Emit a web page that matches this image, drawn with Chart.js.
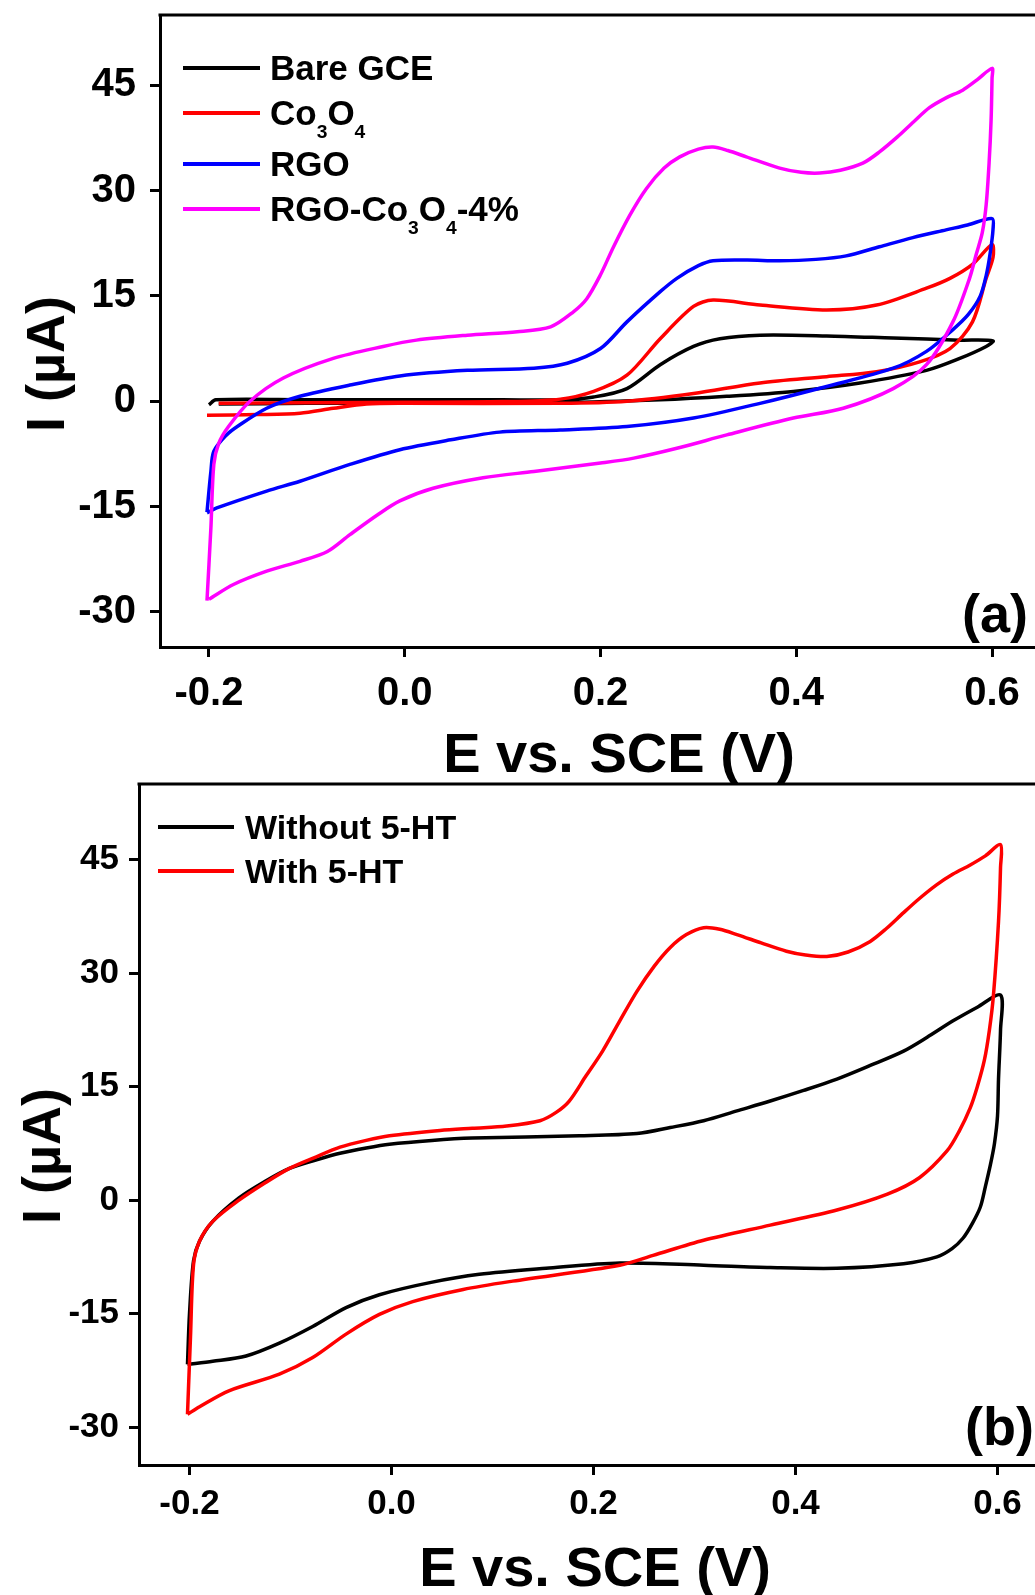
<!DOCTYPE html>
<html>
<head>
<meta charset="utf-8">
<script src="https://cdn.jsdelivr.net/npm/chart.js@4.4.0/dist/chart.umd.min.js"></script>
<style>
html, body { margin: 0; padding: 0; background: #fff; overflow: hidden; }
body { width: 1035px; height: 1595px; position: relative; font-family: "Liberation Sans", Arial, sans-serif; font-weight: bold; color: #000; }
canvas { position: absolute; left: 0; }
.lbl { position: absolute; white-space: nowrap; line-height: 1; }
.c { transform: translate(-50%, -50%); }
.rot { transform: translate(-50%, -50%) rotate(-90deg); }
.sw { position: absolute; height: 4px; }
sub { font-size: 55%; vertical-align: -0.65em; line-height: 0; }
</style>
</head>
<body>
<canvas id="chartA" width="1050" height="730" style="top:0"></canvas>
<canvas id="chartB" width="1055" height="760" style="top:770px"></canvas>

<!-- panel (a) texts -->
<div class="lbl rot" style="left:45px;top:364px;font-size:54px">I (µA)</div>
<div class="lbl c" style="left:619px;top:753px;font-size:56px">E vs. SCE (V)</div>
<div class="lbl" style="left:962px;top:586px;font-size:54px">(a)</div>
<div class="sw" style="left:183px;top:66px;width:77px;background:#000"></div>
<div class="lbl" style="left:270px;top:50px;font-size:35px">Bare GCE</div>
<div class="sw" style="left:183px;top:111px;width:77px;background:#ff0000"></div>
<div class="lbl" style="left:270px;top:95px;font-size:35px">Co<sub>3</sub>O<sub>4</sub></div>
<div class="sw" style="left:183px;top:162px;width:77px;background:#0000ff"></div>
<div class="lbl" style="left:270px;top:146px;font-size:35px">RGO</div>
<div class="sw" style="left:183px;top:207px;width:77px;background:#ff00ff"></div>
<div class="lbl" style="left:270px;top:191px;font-size:35px">RGO-Co<sub>3</sub>O<sub>4</sub>-4%</div>

<!-- panel (b) texts -->
<div class="lbl rot" style="left:41px;top:1156px;font-size:54px">I (µA)</div>
<div class="lbl c" style="left:595px;top:1567px;font-size:56px">E vs. SCE (V)</div>
<div class="lbl" style="left:965px;top:1399px;font-size:54px">(b)</div>
<div class="sw" style="left:158px;top:825px;width:76px;background:#000"></div>
<div class="lbl" style="left:245px;top:810px;font-size:34px">Without 5-HT</div>
<div class="sw" style="left:158px;top:869px;width:76px;background:#ff0000"></div>
<div class="lbl" style="left:245px;top:854px;font-size:34px">With 5-HT</div>

<script>
// Axis ticks
const potentialTicks = [-0.2, 0.0, 0.2, 0.4, 0.6];
const currentTicks = [-30, -15, 0, 15, 30, 45];

// Panel (a) - Bare GCE (forward sweep then reverse)
const bareE = [-0.2, -0.193, -0.1, 0.0, 0.1, 0.159, 0.193, 0.227, 0.261, 0.295, 0.322, 0.363, 0.431, 0.499, 0.567, 0.601,
               0.594, 0.567, 0.533, 0.465, 0.397, 0.329, 0.261, 0.159, 0.0, -0.1, -0.19];
const bareI = [-0.5, 0.2, 0.2, 0.2, 0.2, 0.2, 0.6, 1.8, 5.2, 7.8, 8.9, 9.4, 9.3, 9.0, 8.7, 8.6,
               7.8, 6.1, 4.4, 2.6, 1.4, 0.7, 0.2, -0.2, -0.3, -0.3, -0.4];

// Panel (a) - Co3O4
const co3o4E = [-0.19, -0.1, 0.0, 0.1, 0.159, 0.193, 0.227, 0.261, 0.295, 0.315, 0.363, 0.431, 0.482, 0.533, 0.557, 0.58, 0.6,
                0.601, 0.594, 0.58, 0.557, 0.526, 0.482, 0.431, 0.363, 0.295, 0.227, 0.159, 0.0, -0.039, -0.073, -0.107, -0.15, -0.202];
const co3o4I = [-0.3, -0.2, -0.15, -0.05, 0.3, 1.4, 3.7, 8.9, 13.5, 14.4, 13.7, 13.0, 13.7, 16.1, 17.5, 19.5, 22.3,
                20.5, 17.5, 11.3, 7.5, 5.6, 4.2, 3.5, 2.6, 1.1, 0.0, -0.3, -0.3, -0.4, -1.0, -1.7, -1.9, -2.0];

// Panel (a) - RGO
const rgoE = [-0.202, -0.198, -0.195, -0.182, -0.171, -0.141, -0.107, -0.056, -0.005, 0.064, 0.132, 0.166, 0.2, 0.227, 0.261, 0.278, 0.3, 0.315, 0.35, 0.383, 0.42, 0.451, 0.485, 0.519, 0.553, 0.575, 0.6,
              0.601, 0.598, 0.594, 0.588, 0.576, 0.56, 0.533, 0.499, 0.431, 0.363, 0.295, 0.227, 0.159, 0.097, 0.047, -0.005, -0.056, -0.107, -0.141, -0.192, -0.202];
const rgoI = [-15.8, -10, -7.1, -4.8, -3.6, -1.0, 0.7, 2.3, 3.6, 4.4, 4.7, 5.4, 7.5, 11.3, 15.6, 17.5, 19.3, 20.0, 20.1, 20.0, 20.2, 20.7, 22.0, 23.3, 24.4, 25.1, 26.0,
              24.5, 21, 17.9, 15, 12.4, 10.2, 7.1, 4.7, 2.1, -0.3, -2.4, -3.6, -4.1, -4.4, -5.5, -6.9, -9.0, -11.4, -12.8, -15.2, -15.9];

// Panel (a) - RGO-Co3O4-4%
const rgoCoE = [-0.202, -0.198, -0.195, -0.19, -0.18, -0.158, -0.124, -0.073, -0.022, 0.012, 0.064, 0.115, 0.149, 0.172, 0.186, 0.2, 0.213, 0.23, 0.247, 0.265, 0.281, 0.3, 0.315, 0.33, 0.349, 0.383, 0.405, 0.424, 0.445, 0.468, 0.485, 0.503, 0.52, 0.536, 0.553, 0.57, 0.585, 0.6,
                0.6, 0.599, 0.597, 0.594, 0.59, 0.584, 0.577, 0.56, 0.533, 0.499, 0.448, 0.397, 0.329, 0.278, 0.234, 0.2, 0.132, 0.08, 0.029, -0.005, -0.028, -0.056, -0.079, -0.107, -0.141, -0.175, -0.2];
const rgoCoI = [-28.4, -18, -9, -6.0, -3.6, 0.0, 3.3, 6.1, 7.8, 8.7, 9.4, 9.9, 10.6, 12.7, 14.6, 18.0, 21.9, 26.5, 30.3, 33.2, 34.8, 35.9, 36.2, 35.7, 34.8, 33.2, 32.6, 32.5, 32.9, 33.9, 35.5, 37.6, 39.8, 41.8, 43.2, 44.3, 45.8, 47.4,
                46, 40, 34, 28, 24, 21, 17.5, 11.3, 5.2, 1.8, -1.0, -2.4, -4.8, -6.7, -8.1, -8.8, -10.0, -10.9, -12.4, -14.2, -16.2, -19.0, -21.4, -22.8, -24.2, -26.1, -28.2];

// Panel (b) - Without 5-HT
const withoutE = [-0.202, -0.2, -0.196, -0.19, -0.177, -0.151, -0.125, -0.101, -0.075, -0.051, -0.025, -0.002, 0.04, 0.08, 0.186, 0.243, 0.276, 0.309, 0.342, 0.375, 0.408, 0.441, 0.474, 0.507, 0.53, 0.556, 0.58, 0.603,
                  0.603, 0.601, 0.6, 0.597, 0.593, 0.588, 0.583, 0.575, 0.566, 0.555, 0.54, 0.507, 0.441, 0.375, 0.309, 0.226, 0.153, 0.087, 0.038, -0.012, -0.045, -0.078, -0.111, -0.144, -0.177, -0.202];
const withoutI = [-21.7, -15, -8.0, -5.4, -2.8, 0.3, 2.5, 4.2, 5.3, 6.2, 6.9, 7.4, 7.9, 8.2, 8.5, 8.8, 9.6, 10.5, 11.8, 13.1, 14.5, 16.0, 17.8, 19.7, 21.5, 23.7, 25.5, 27.1,
                  22.5, 16, 11.1, 7.5, 4.7, 1.8, -0.9, -3.1, -5.0, -6.4, -7.5, -8.4, -9.0, -8.9, -8.6, -8.3, -9.0, -9.8, -10.9, -12.5, -14.2, -16.7, -18.9, -20.6, -21.3, -21.7];

// Panel (b) - With 5-HT
const withE = [-0.202, -0.199, -0.196, -0.19, -0.177, -0.151, -0.125, -0.101, -0.075, -0.051, -0.025, -0.002, 0.048, 0.08, 0.114, 0.147, 0.163, 0.176, 0.192, 0.209, 0.226, 0.243, 0.26, 0.276, 0.292, 0.309, 0.325, 0.342, 0.366, 0.391, 0.41, 0.431, 0.452, 0.474, 0.49, 0.507, 0.523, 0.54, 0.556, 0.573, 0.588, 0.603,
               0.603, 0.601, 0.596, 0.592, 0.587, 0.58, 0.573, 0.562, 0.55, 0.523, 0.491, 0.441, 0.375, 0.309, 0.259, 0.226, 0.12, 0.071, 0.021, -0.012, -0.045, -0.078, -0.111, -0.161, -0.19, -0.202];
const withI = [-28.3, -18, -8.5, -5.4, -2.8, 0.0, 2.3, 4.2, 5.7, 7.0, 7.9, 8.5, 9.2, 9.5, 9.8, 10.5, 11.6, 13.1, 16.3, 19.7, 23.7, 27.6, 30.9, 33.4, 35.1, 36.0, 35.8, 35.1, 34.0, 32.9, 32.4, 32.2, 32.8, 34.2, 35.9, 38.0, 39.9, 41.7, 43.1, 44.3, 45.5, 47.0,
               44, 36.8, 27.1, 22.5, 18.5, 15.0, 12.2, 9.1, 6.5, 3.0, 0.8, -1.3, -3.3, -5.3, -7.3, -8.6, -10.7, -11.8, -13.4, -15.1, -17.7, -20.8, -23.0, -25.2, -27.3, -28.3];

const FONT = '"Liberation Sans", Arial, sans-serif';

// Top and right edge of the plot frame
const framePlugin = {
    id: 'frame',
    afterDraw(chart) {
        const { ctx, chartArea: a } = chart;
        ctx.save();
        ctx.strokeStyle = '#000';
        ctx.lineWidth = 3;
        ctx.beginPath();
        ctx.moveTo(a.left - 1.5, a.top);
        ctx.lineTo(a.right, a.top);
        ctx.lineTo(a.right, a.bottom);
        ctx.stroke();
        ctx.restore();
    }
};

function curve(label, xs, ys, color) {
    return {
        label: label,
        data: xs.map((x, i) => ({ x: x, y: ys[i] })),
        borderColor: color,
        borderWidth: 3.5,
        pointRadius: 0,
        showLine: true,
        fill: false,
        tension: 0.3
    };
}

function axis(min, max, tickValues, fontSize, padding, format, fit) {
    return {
        type: 'linear',
        min: min,
        max: max,
        afterBuildTicks: scale => { scale.ticks = tickValues.map(v => ({ value: v })); },
        afterFit: fit,
        grid: { display: true, drawOnChartArea: false, drawTicks: true, tickLength: 10, tickWidth: 3, tickColor: '#000' },
        border: { display: true, color: '#000', width: 3 },
        ticks: {
            color: '#000',
            padding: padding,
            autoSkip: false,
            maxRotation: 0,
            font: { family: FONT, weight: 'bold', size: fontSize },
            callback: format
        }
    };
}

function makeChart(id, datasets, opts) {
    const ctx = document.getElementById(id).getContext('2d');
    return new Chart(ctx, {
        type: 'scatter',
        data: { datasets: datasets },
        options: {
            responsive: false,
            animation: false,
            devicePixelRatio: 1,
            layout: { padding: { top: opts.top, right: opts.right, left: 0, bottom: 0 } },
            plugins: { legend: { display: false }, tooltip: { enabled: false } },
            scales: {
                x: axis(-0.25, 0.65, potentialTicks, opts.fontSize, opts.xPad, v => v.toFixed(1),
                        s => { s.height = opts.xHeight; }),
                y: axis(-35, 55, currentTicks, opts.fontSize, opts.yPad, v => String(v),
                        s => { s.width = opts.yWidth; s.paddingTop = 0; s.paddingBottom = 0; })
            }
        },
        plugins: [framePlugin]
    });
}

makeChart('chartA', [
    curve('RGO-Co3O4-4%', rgoCoE, rgoCoI, '#ff00ff'),
    curve('RGO', rgoE, rgoI, '#0000ff'),
    curve('Co3O4', co3o4E, co3o4I, '#ff0000'),
    curve('Bare GCE', bareE, bareI, '#000000')
], { top: 15, right: 9, xHeight: 83, yWidth: 160, fontSize: 40, xPad: 13, yPad: 14 });

makeChart('chartB', [
    curve('With 5-HT', withE, withI, '#ff0000'),
    curve('Without 5-HT', withoutE, withoutI, '#000000')
], { top: 14, right: 7, xHeight: 65, yWidth: 139, fontSize: 35, xPad: 8, yPad: 10 });
</script>
</body>
</html>
